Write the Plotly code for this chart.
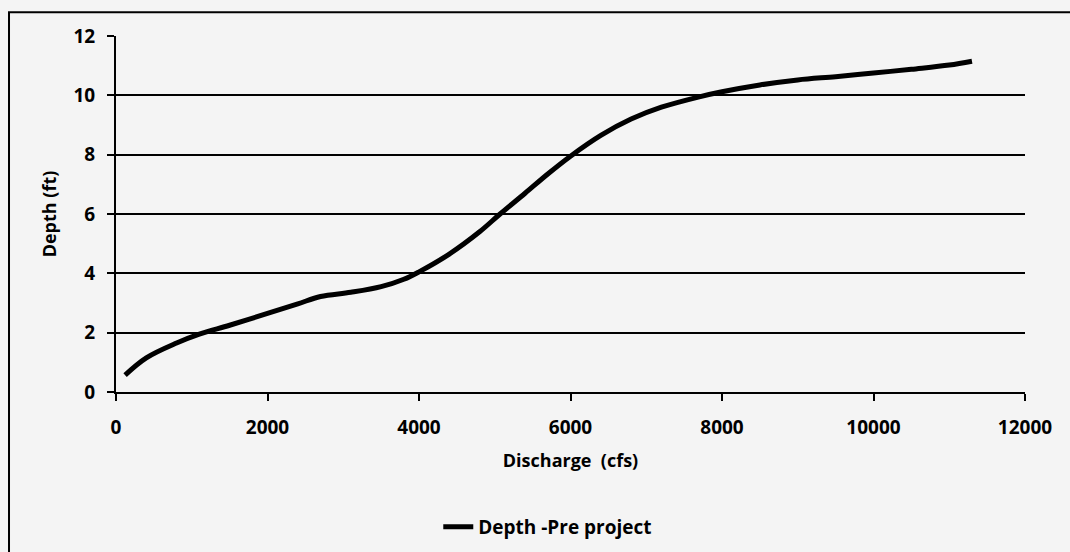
import plotly.graph_objects as go

discharge = [120, 400, 800, 1100, 1500, 2000, 2400, 2700, 3100, 3500, 3800, 4000, 4400, 4800, 5070, 5400, 5700, 6000, 6400, 6800, 7200, 7700, 8000, 8500, 9000, 9500, 10000, 10500, 11000, 11300]
depth = [0.57, 1.15, 1.65, 1.95, 2.25, 2.65, 2.97, 3.22, 3.36, 3.55, 3.8, 4.05, 4.65, 5.4, 6.0, 6.7, 7.35, 7.95, 8.65, 9.2, 9.6, 9.95, 10.12, 10.35, 10.52, 10.63, 10.75, 10.88, 11.02, 11.15]

xticks = [0, 2000, 4000, 6000, 8000, 10000, 12000]
yticks = [0, 2, 4, 6, 8, 10, 12]

fig = go.Figure()
fig.add_trace(go.Scatter(
    x=discharge, y=depth, mode="lines", name="Depth -Pre project",
    line=dict(color="black", width=5, shape="spline", smoothing=1.0),
))

font_family = "Open Sans, Liberation Sans, sans-serif"

fig.update_layout(
    width=1070, height=552,
    margin=dict(l=116, r=45, t=36, b=160, autoexpand=False),
    paper_bgcolor="#f4f4f4",
    plot_bgcolor="#f4f4f4",
    font=dict(family=font_family, color="black"),
    showlegend=True,
    legend=dict(orientation="h", x=0.475, xanchor="center", y=-0.379, yanchor="middle",
                bgcolor="rgba(0,0,0,0)", font=dict(size=19, family=font_family, weight="bold")),
    xaxis=dict(
        range=[0, 12000], tickvals=xticks, ticktext=[str(v) for v in xticks],
        showgrid=False, zeroline=False, showline=True, linecolor="black", linewidth=2,
        ticks="outside", ticklen=7, tickcolor="black", tickwidth=1.5,
        ticklabelstandoff=10,
        tickfont=dict(size=19, weight="bold"),
        title=dict(text="Discharge  (cfs)", font=dict(size=18, weight="bold"), standoff=16),
    ),
    yaxis=dict(
        range=[0, 12], tickvals=yticks,
        showgrid=True, gridcolor="black", gridwidth=1.5, zeroline=False,
        showline=True, linecolor="black", linewidth=2,
        ticks="outside", ticklen=7, tickcolor="black", tickwidth=1.5,
        ticklabelstandoff=8,
        tickfont=dict(size=19, weight="bold"),
        title=dict(text="Depth (ft)", font=dict(size=18, weight="bold"), standoff=12),
    ),
    shapes=[dict(type="rect", xref="paper", yref="paper",
                 x0=-0.1177, x1=1.1, y0=-0.6, y1=1.067,
                 line=dict(color="black", width=2), fillcolor="rgba(0,0,0,0)", layer="below")],
)

fig.write_html(
    "out.html",
    config={"displayModeBar": False},
    post_script="document.body.style.margin='0';document.body.style.overflow='hidden';",
)
